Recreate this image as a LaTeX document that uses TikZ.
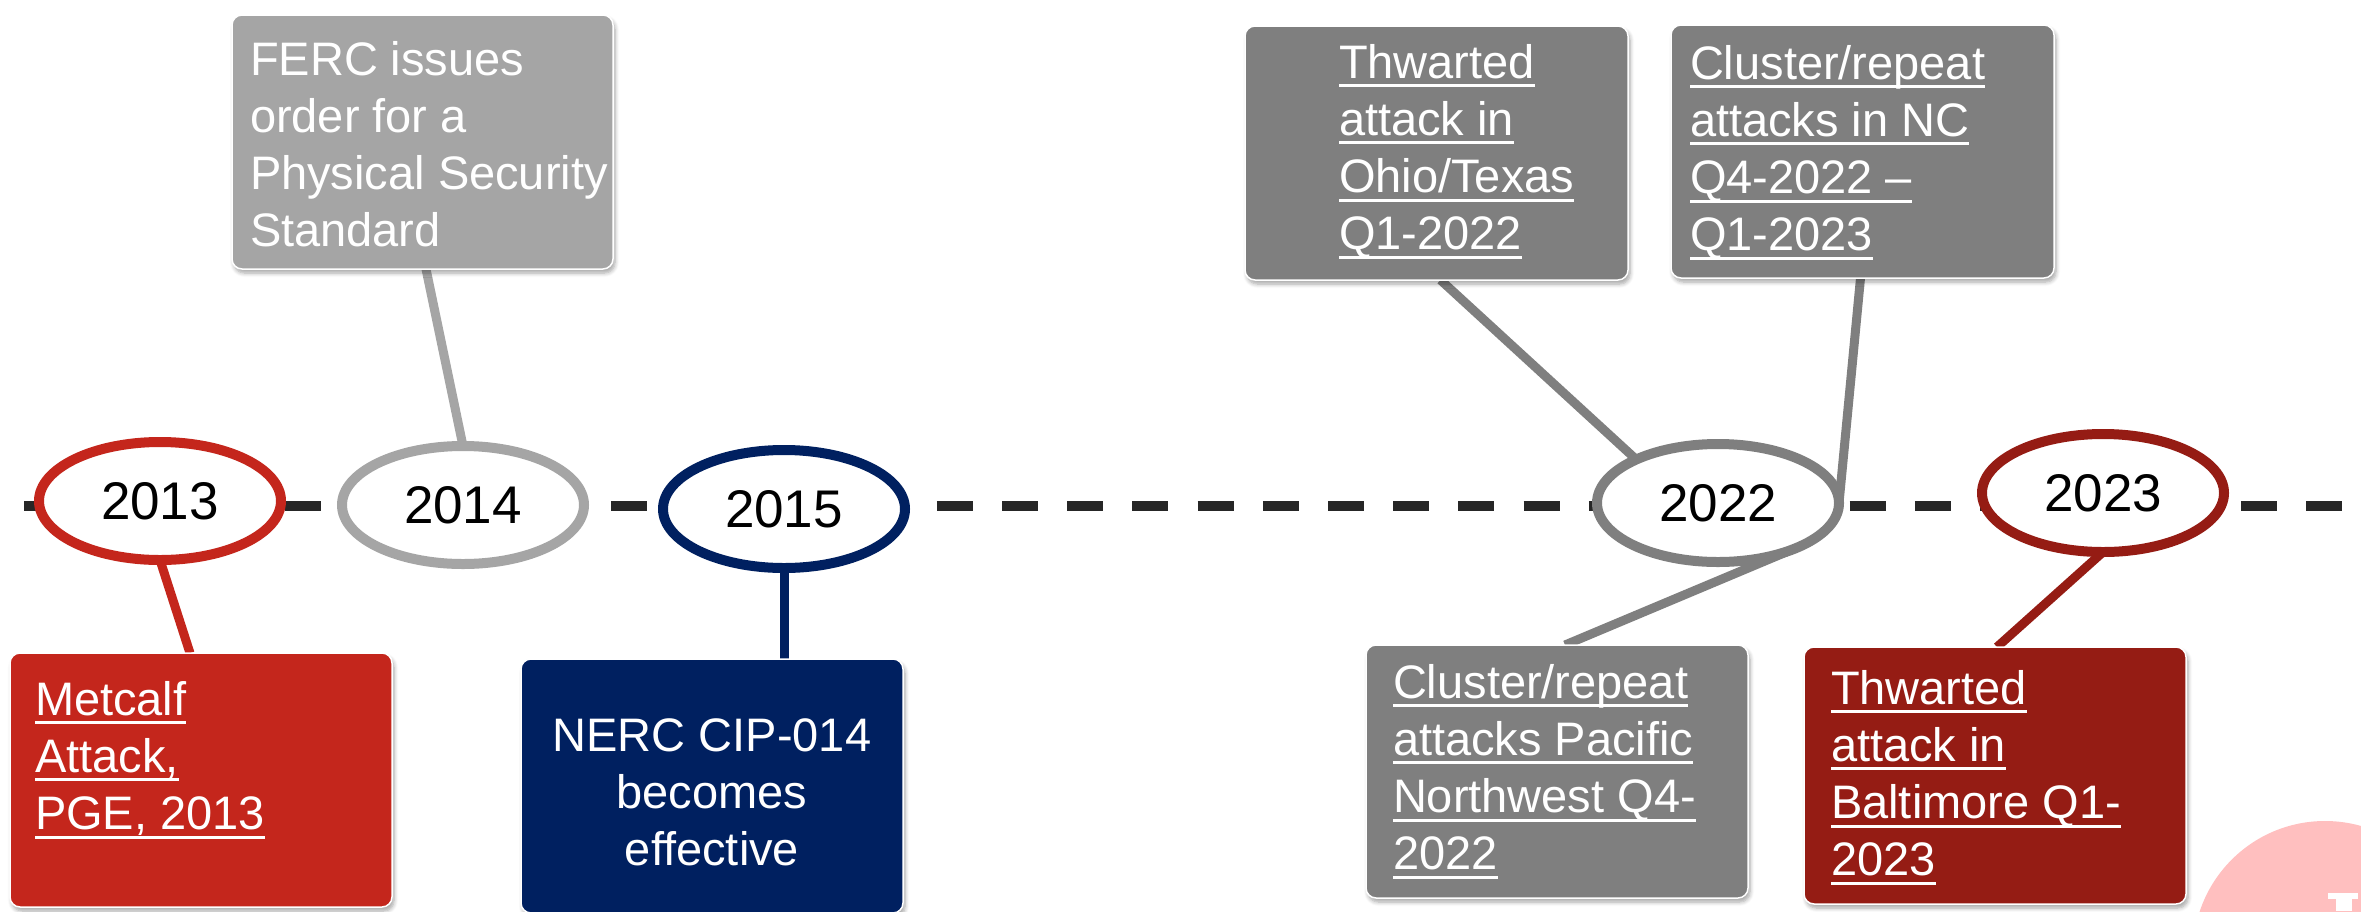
\documentclass[tikz,border=0pt]{standalone}
\usepackage{fontspec}
\setmainfont{Liberation Sans}
\usetikzlibrary{shapes.geometric,shadows.blur}
\definecolor{cRed}{HTML}{C4261C}
\definecolor{cDRed}{HTML}{951C14}
\definecolor{cNavy}{HTML}{002060}
\definecolor{cLGray}{HTML}{A5A5A5}
\definecolor{cGray}{HTML}{7F7F7F}
\definecolor{cDash}{HTML}{262626}
\definecolor{cPink}{HTML}{FFBFBF}
\newcommand\myul[1]{\setbox0\hbox{#1}\rlap{\rule[-9pt]{\wd0}{3pt}}\box0}
\newcommand\boxtext[5]{\begin{minipage}[t][#2pt][t]{#1pt}\leftskip=#4pt\relax\rule{0pt}{#3pt}#5\end{minipage}}
\pgfdeclarelayer{bg}
\pgfsetlayers{bg,main}
\begin{document}
\begin{tikzpicture}[x=1pt,y=-1pt,
  yearell/.style={ellipse, minimum width=242pt, minimum height=118pt, inner sep=0pt, outer sep=0pt, line width=10pt, fill=white, text=black, font=\fontsize{53}{60}\selectfont},
  evbox/.style={rectangle, rounded corners=10pt, draw=white, line width=1.5pt, inner sep=0pt, outer sep=0pt, anchor=north west, text=white, font=\fontsize{47}{57.3}\selectfont, blur shadow={shadow xshift=2pt, shadow yshift=-4pt, shadow blur steps=6, shadow opacity=35, shadow blur radius=4pt}},
  conn/.style={line width=9pt},
  timeline/.style={line width=9.5pt, color=cDash, dash pattern=on 36pt off 29.2pt}]
\useasboundingbox (0,0) rectangle (2361,911);
% background logo fragment
\fill[cPink] (2325,953) circle[radius=132];
\fill[white] (2328,893) rectangle (2358,899);
\fill[white] (2336,893) rectangle (2352,911);
% year ellipses
\node[yearell, draw=cRed]   (e2013) at (160,501)  {2013};
\node[yearell, draw=cLGray] (e2014) at (463,505)  {2014};
\node[yearell, draw=cNavy]  (e2015) at (784,509)  {2015};
\node[yearell, draw=cGray]  (e2022) at (1718,503) {2022};
\node[yearell, draw=cDRed]  (e2023) at (2103,493) {2023};
% event boxes
\node[evbox, fill=cLGray] (ferc) at (232,15)
  {\boxtext{381}{254}{60}{18}{\mbox{FERC issues}\\\mbox{order for a}\\\mbox{Physical Security}\\\mbox{Standard}}};
\node[evbox, fill=cRed] (metcalf) at (10,653)
  {\boxtext{382}{254}{62}{25}{\myul{Metcalf}\\\myul{Attack,}\\\myul{PGE, 2013}}};
\node[evbox, fill=cNavy] (nerc) at (521,659)
  {\boxtext{382}{254}{92}{0}{\centering\mbox{NERC CIP-014}\\\mbox{becomes}\\\mbox{effective}}};
\node[evbox, fill=cGray] (ohio) at (1245,26)
  {\boxtext{383}{254}{52}{94}{\myul{Thwarted}\\\myul{attack in}\\\myul{Ohio/Texas}\\\myul{Q1-2022}}};
\node[evbox, fill=cGray] (nc) at (1671,25)
  {\boxtext{383}{253}{54}{19}{\myul{Cluster/repeat}\\\myul{attacks in NC}\\\myul{Q4-2022 \textendash}\\\myul{Q1-2023}}};
\node[evbox, fill=cGray] (pacific) at (1366,645)
  {\boxtext{382}{253}{53}{27}{\myul{Cluster/repeat}\\\myul{attacks Pacific}\\\myul{Northwest Q4-}\\\myul{2022}}};
\node[evbox, fill=cDRed] (balt) at (1804,647)
  {\boxtext{382}{257}{57}{27}{\myul{Thwarted}\\\myul{attack in}\\\myul{Baltimore Q1-}\\\myul{2023}}};
\begin{pgfonlayer}{bg}
\coordinate (tlL) at (24,506);
\coordinate (tlR) at (2370,506);
\draw[timeline] (tlL) -- (tlR);
\draw[conn, cRed]   (e2013.south) -- ([xshift=-11pt]metcalf.north);
\draw[conn, cLGray] (e2014.north) -- ([xshift=3.5pt]ferc.south);
\draw[conn, cNavy]  (e2015.south) -- ([xshift=72pt]nerc.north);
\draw[conn, cGray]  (e2022.152) -- ([xshift=4pt]ohio.south);
\draw[conn, cGray]  (e2022.east) -- ([xshift=-2pt]nc.south);
\draw[conn, cGray]  (e2022.-33) -- ([xshift=8pt]pacific.north);
\draw[conn, cDRed]  (e2023.south) -- ([xshift=2pt]balt.north);
\end{pgfonlayer}
\end{tikzpicture}
\end{document}
